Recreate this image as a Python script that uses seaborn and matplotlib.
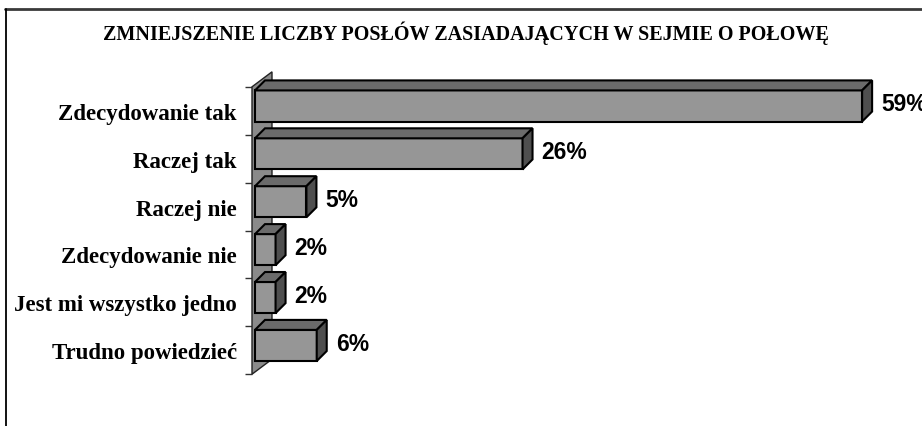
import numpy as np
import pandas as pd
import matplotlib.pyplot as plt
import seaborn as sns
from matplotlib.patches import Polygon
from matplotlib.lines import Line2D

# dane z wykresu
kategorie = ['Zdecydowanie tak', 'Raczej tak', 'Raczej nie', 'Zdecydowanie nie',
             'Jest mi wszystko jedno', 'Trudno powiedzieć']
procenty = [59, 26, 5, 2, 2, 6]
etykiety = ['59%', '26%', '5%', '2%', '2%', '6%']
tytul = 'ZMNIEJSZENIE LICZBY POSŁÓW ZASIADAJĄCYCH W SEJMIE O POŁOWĘ'

df = pd.DataFrame({'odp': kategorie, 'proc': procenty})

sns.set_theme(style='white')
plt.rcParams['font.family'] = ['Liberation Serif', 'DejaVu Serif']

W, H = 922, 427
fig = plt.figure(figsize=(W / 100, H / 100), dpi=100)
ax = fig.add_axes([252 / W, 1 - 380 / H, 670 / W, 310 / H])

# przednie sciany slupkow
sns.barplot(data=df, x='proc', y='odp', orient='h', color='#969696', saturation=1,
            edgecolor='black', linewidth=1.5, width=0.65, ax=ax, zorder=3)
bars = list(ax.patches)

ax.set_xlim(-0.29, 64.82)
ax.set_ylim(5.70, -0.772)

# skala w pikselach -> efekt 3D
sx = 670 / (64.82 + 0.29)
sy = 310 / (5.70 + 0.772)
dx, dy = 10 / sx, -10 / sy

# "sciana" po lewej stronie
xf = ax.get_xlim()[0]
xb = xf + 20 / sx
yt, yb = -0.4, len(kategorie) - 0.4
sh = -15 / sy
ax.add_patch(Polygon([(xf, yb), (xf, yt), (xb, yt + sh), (xb, yb + sh)],
                     closed=True, facecolor='#8a8a8a', edgecolor='#222222',
                     lw=1, zorder=1, clip_on=False))

for p, lab in zip(bars, etykiety):
    x0, y0 = p.get_x(), p.get_y()
    w, h = p.get_width(), p.get_height()
    x1, y1 = x0 + w, y0 + h
    # gora
    ax.add_patch(Polygon([(x0, y0), (x1, y0), (x1 + dx, y0 + dy), (x0 + dx, y0 + dy)],
                         closed=True, facecolor='#6b6b6b', edgecolor='black',
                         lw=1.5, zorder=3, clip_on=False))
    # bok
    ax.add_patch(Polygon([(x1, y0), (x1, y1), (x1 + dx, y1 + dy), (x1 + dx, y0 + dy)],
                         closed=True, facecolor='#4f4f4f', edgecolor='black',
                         lw=1.5, zorder=3, clip_on=False))
    ax.text(x1 + dx + 9 / sx, y0 + h / 2 - 0.05, lab, ha='left', va='center',
            fontsize=16.5, fontweight='bold', color='black',
            family=['Liberation Sans', 'DejaVu Sans'], clip_on=False)

# osie
ax.set_yticks(np.arange(len(kategorie)) + 0.1, labels=kategorie)
ax.set_yticks(np.arange(len(kategorie) + 1) - 0.4, minor=True)
ax.tick_params(axis='y', which='major', length=0, pad=11, labelsize=16.5,
               labelcolor='black')
ax.tick_params(axis='y', which='minor', left=True, length=5, width=1, color='#333333')
for t in ax.get_yticklabels():
    t.set_fontweight('bold')
ax.set_xticks([])
ax.set_xlabel('')
ax.set_ylabel('')
sns.despine(ax=ax, left=True, bottom=True)

fig.text(466 / W, 1 - 33 / H, tytul, ha='center', va='center',
         fontsize=14.5, fontweight='bold', color='black')

# ramka
fig.add_artist(Line2D([5 / W, 1], [1 - 10 / H] * 2, color='#3a3a3a', lw=2))
fig.add_artist(Line2D([6 / W] * 2, [1 - 10 / H, 0], color='black', lw=1.3))

fig.savefig('out.png', dpi=100)
